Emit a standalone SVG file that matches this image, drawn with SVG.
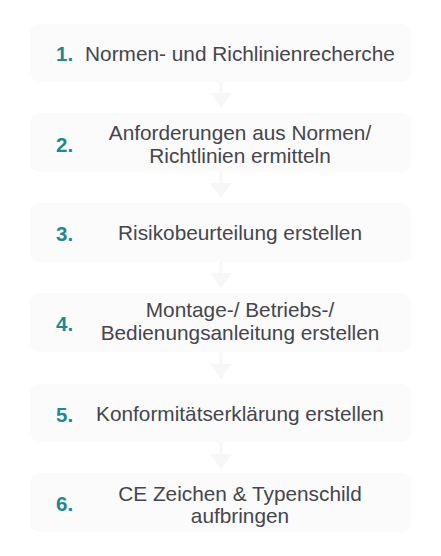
<svg xmlns="http://www.w3.org/2000/svg" width="441" height="556" viewBox="0 0 441 556">
<style>
.box{fill:#fbfbfb;stroke:none}
.num{font-family:"Liberation Sans",Arial,sans-serif;font-weight:bold;font-size:20.5px;fill:#1f8a8c}
.txt{font-family:"Liberation Sans",Arial,sans-serif;font-size:20.8px;fill:#45454d;text-anchor:middle}
.arr{fill:#f7f7f7;stroke:none}
.sh{stroke:#f7f7f7;stroke-width:3}
</style>
<rect width="441" height="556" fill="#ffffff"/>
<g id="connectors">
<g><line class="sh" x1="221" y1="82" x2="221" y2="95"/><polygon class="arr" points="210,93 232,93 221,108"/></g>
<g><line class="sh" x1="221" y1="172" x2="221" y2="185"/><polygon class="arr" points="210,183 232,183 221,198"/></g>
<g><line class="sh" x1="221" y1="262" x2="221" y2="275"/><polygon class="arr" points="210,273 232,273 221,288"/></g>
<g><line class="sh" x1="221" y1="352" x2="221" y2="365"/><polygon class="arr" points="210,364 232,364 221,379"/></g>
<g><line class="sh" x1="221" y1="442" x2="221" y2="455"/><polygon class="arr" points="210,454 232,454 221,469"/></g>
</g>
<g id="node1"><rect class="box" x="30" y="24" width="381" height="58" rx="9"/><text class="num" x="56" y="61">1.</text><text class="txt" x="240" y="60.5">Normen- und Richlinienrecherche</text></g>
<g id="node2"><rect class="box" x="30" y="113" width="381" height="59" rx="9"/><text class="num" x="56" y="152">2.</text><text class="txt" x="240" y="140">Anforderungen aus Normen/</text><text class="txt" x="240" y="162.5">Richtlinien ermitteln</text></g>
<g id="node3"><rect class="box" x="30" y="203" width="381" height="59" rx="9"/><text class="num" x="56" y="241">3.</text><text class="txt" x="240" y="240">Risikobeurteilung erstellen</text></g>
<g id="node4"><rect class="box" x="30" y="293" width="381" height="59" rx="9"/><text class="num" x="56" y="331">4.</text><text class="txt" x="240" y="317">Montage-/ Betriebs-/</text><text class="txt" x="240" y="339.5">Bedienungsanleitung erstellen</text></g>
<g id="node5"><rect class="box" x="30" y="384" width="381" height="58" rx="9"/><text class="num" x="56" y="421.5">5.</text><text class="txt" x="240" y="420.5">Konformitätserklärung erstellen</text></g>
<g id="node6"><rect class="box" x="30" y="473" width="381" height="59" rx="9"/><text class="num" x="56" y="510.5">6.</text><text class="txt" x="240" y="500.5">CE Zeichen &amp; Typenschild</text><text class="txt" x="240" y="523">aufbringen</text></g>
</svg>
